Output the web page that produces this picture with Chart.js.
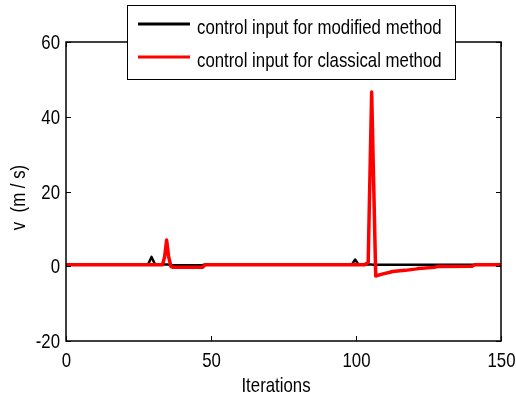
<!DOCTYPE html>
<html>
<head>
<meta charset="utf-8">
<script src="https://cdn.jsdelivr.net/npm/chart.js@4/dist/chart.umd.min.js"></script>
<style>
html,body{margin:0;padding:0;background:#fff;}
#wrap{width:516px;height:398px;}
</style>
</head>
<body>
<div id="wrap"><canvas id="c" width="516" height="398"></canvas></div>
<script>
// Data
const modX = [0, 28.3, 29.5, 30.7, 35, 36, 47, 48, 98.6, 99.7, 100.8, 105, 106, 141, 142, 150];
const modY = [0.5, 0.5, 2.5, 0.5, 0.5, 0.3, 0.3, 0.5, 0.5, 1.8, 0.5, 0.5, 0.4, 0.4, 0.5, 0.5];
const clsX = [0, 33.3, 34.0, 34.7, 35.4, 36.2, 37, 47, 48, 103, 104.2, 105.4, 106.8, 109, 111.7, 112.5, 117, 120.9, 121.5, 127, 128, 140, 141, 150];
const clsY = [0.4, 0.4, 2.5, 7.0, 2.5, -0.1, -0.3, -0.3, 0.4, 0.4, 1.0, 46.6, -2.6, -2.1, -1.6, -1.4, -1.1, -0.7, -0.6, -0.3, -0.1, 0.0, 0.4, 0.4];
const seriesLabels = ['control input for modified method', 'control input for classical method'];
const xTicks = [0, 50, 100, 150];
const yTicks = [-20, 0, 20, 40, 60];
const xTitle = 'Iterations';
const yTitle = 'v  (m / s)';

const FONT = "'Liberation Sans', Arial, sans-serif";
const FS = 21;     // font size
const SX = 0.8;    // horizontal condensing (reference uses a narrow face)
const toPts = (xs, ys) => xs.map((x, i) => ({x, y: ys[i]}));

function txt(ctx, s, x, y, align, rot) {
  ctx.save();
  ctx.translate(x, y);
  if (rot) ctx.rotate(rot);
  ctx.scale(SX, 1);
  ctx.font = FS + 'px ' + FONT;
  ctx.fillStyle = '#000';
  ctx.textAlign = align;
  ctx.textBaseline = 'alphabetic';
  ctx.fillText(s, 0, 0);
  ctx.restore();
}

const framePlugin = {
  id: 'frame',
  afterDatasetsDraw(chart) {
    const {ctx, chartArea: a, scales: {x, y}} = chart;
    ctx.save();
    ctx.strokeStyle = '#000';
    ctx.lineWidth = 1.5;
    ctx.strokeRect(a.left, a.top, a.right - a.left, a.bottom - a.top);
    ctx.lineWidth = 1;
    const L = 5;
    ctx.beginPath();
    xTicks.forEach(v => {
      const px = Math.round(x.getPixelForValue(v)) + 0.5;
      ctx.moveTo(px, a.bottom); ctx.lineTo(px, a.bottom - L);
      ctx.moveTo(px, a.top); ctx.lineTo(px, a.top + L);
    });
    yTicks.forEach(v => {
      const py = Math.round(y.getPixelForValue(v)) + 0.5;
      ctx.moveTo(a.left, py); ctx.lineTo(a.left + L, py);
      ctx.moveTo(a.right, py); ctx.lineTo(a.right - L, py);
    });
    ctx.stroke();
    ctx.restore();
    // tick labels and titles
    xTicks.forEach(v => txt(ctx, String(v), x.getPixelForValue(v) + 0.5, a.bottom + 26, 'center'));
    yTicks.forEach(v => txt(ctx, String(v), a.left - 6, y.getPixelForValue(v) + 7, 'right'));
    txt(ctx, xTitle, 276, 392, 'center');
    txt(ctx, yTitle, 25, 197.5, 'center', -Math.PI / 2);
  },
  afterDraw(chart) {
    const {ctx} = chart;
    const bx = 127, by = 5, bw = 328, bh = 74;
    ctx.save();
    ctx.fillStyle = '#fff';
    ctx.fillRect(bx, by, bw, bh);
    ctx.strokeStyle = '#000';
    ctx.lineWidth = 1;
    ctx.strokeRect(bx + 0.5, by + 0.5, bw, bh);
    const rows = [24, 57];
    [0, 1].forEach((di, i) => {
      const ds = chart.data.datasets[di];
      ctx.strokeStyle = ds.borderColor;
      ctx.lineWidth = 3;
      ctx.beginPath();
      ctx.moveTo(138, rows[i]); ctx.lineTo(190, rows[i]);
      ctx.stroke();
      txt(ctx, ds.label, 197, rows[i] + 10, 'left');
    });
    ctx.restore();
  }
};

new Chart(document.getElementById('c'), {
  type: 'line',
  data: {
    datasets: [
      {label: seriesLabels[0], data: toPts(modX, modY), borderColor: '#000000', borderWidth: 2.5, borderJoinStyle: 'round', pointRadius: 0, tension: 0, order: 1},
      {label: seriesLabels[1], data: toPts(clsX, clsY), borderColor: '#ff0000', borderWidth: 3.5, borderCapStyle: 'round', borderJoinStyle: 'round', pointRadius: 0, tension: 0, order: 0}
    ]
  },
  options: {
    responsive: false,
    animation: false,
    layout: {padding: {left: 0, right: 15, top: 42, bottom: 0}},
    plugins: {legend: {display: false}, tooltip: {enabled: false}},
    scales: {
      x: {
        type: 'linear', min: 0, max: 150,
        afterBuildTicks: s => { s.ticks = xTicks.map(v => ({value: v})); },
        afterFit: s => { s.height = 57; },
        grid: {display: false, drawTicks: false},
        border: {display: false},
        ticks: {display: false}
      },
      y: {
        type: 'linear', min: -20, max: 60,
        afterBuildTicks: s => { s.ticks = yTicks.map(v => ({value: v})); },
        afterFit: s => { s.width = 66; },
        grid: {display: false, drawTicks: false},
        border: {display: false},
        ticks: {display: false}
      }
    }
  },
  plugins: [framePlugin]
});
</script>
</body>
</html>
